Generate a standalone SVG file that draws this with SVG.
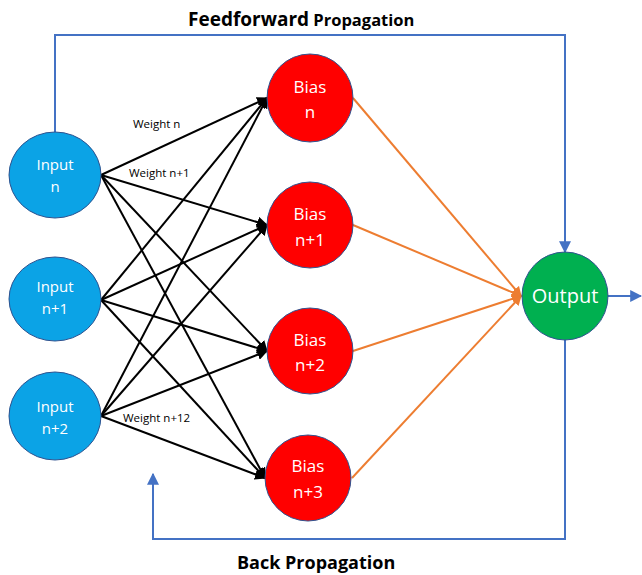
<svg xmlns="http://www.w3.org/2000/svg" width="642" height="575" viewBox="0 0 642 575">
<defs>
<marker id="ab" viewBox="0 0 10 10" refX="9" refY="5" markerWidth="5.5" markerHeight="5.5" orient="auto" markerUnits="strokeWidth"><path d="M0,0 L10,5 L0,10 z" fill="#000"/></marker>
<marker id="ao" viewBox="0 0 10 10" refX="9" refY="5" markerWidth="5" markerHeight="5" orient="auto" markerUnits="strokeWidth"><path d="M0,0 L10,5 L0,10 z" fill="#ED7D31"/></marker>
<marker id="abl" viewBox="0 0 10 10" refX="9" refY="5" markerWidth="6" markerHeight="6" orient="auto" markerUnits="strokeWidth"><path d="M0,0 L10,5 L0,10 z" fill="#4472C4"/></marker>
</defs>
<style>
.in{fill:#0BA3E6;stroke:#2F528F;stroke-width:1}
.bi{fill:#FF0000;stroke:#2F528F;stroke-width:1}
.out{fill:#00B050;stroke:#2F528F;stroke-width:1}
.t{font-family:"Open Sans","Liberation Sans",sans-serif;fill:#fff;font-size:15px;text-anchor:middle}
.tb{font-size:17px}
.w{font-family:"Open Sans","Liberation Sans",sans-serif;fill:#000;font-size:11.5px}
.h{font-family:"Open Sans","Liberation Sans",sans-serif;fill:#000;font-weight:bold}
.k{stroke:#000;stroke-width:2;fill:none;marker-end:url(#ab)}
.o{stroke:#ED7D31;stroke-width:2;fill:none;marker-end:url(#ao)}
.b{stroke:#4472C4;stroke-width:2;fill:none;marker-end:url(#abl)}
</style>
<g id="connectors">
<path class="b" d="M55,132 V35 H565 V252"/>
<path class="b" d="M608,296 H641"/>
<path class="b" d="M565,340 V539 H153 V474"/>
<line class="k" x1="101" y1="175" x2="267" y2="98"/>
<line class="k" x1="101" y1="175" x2="267" y2="225"/>
<line class="k" x1="101" y1="175" x2="267" y2="351"/>
<line class="k" x1="101" y1="175" x2="265" y2="478"/>
<line class="k" x1="101" y1="300" x2="267" y2="98"/>
<line class="k" x1="101" y1="300" x2="267" y2="225"/>
<line class="k" x1="101" y1="300" x2="267" y2="351"/>
<line class="k" x1="101" y1="300" x2="265" y2="478"/>
<line class="k" x1="101" y1="416" x2="267" y2="98"/>
<line class="k" x1="101" y1="416" x2="267" y2="225"/>
<line class="k" x1="101" y1="416" x2="267" y2="351"/>
<line class="k" x1="101" y1="416" x2="265" y2="478"/>
<line class="o" x1="353" y1="98" x2="521" y2="296"/>
<line class="o" x1="353" y1="225" x2="521" y2="296"/>
<line class="o" x1="353" y1="351" x2="521" y2="296"/>
<line class="o" x1="352" y1="478" x2="521" y2="296"/>
</g>
<g id="input-n"><ellipse class="in" cx="55" cy="175" rx="46" ry="43"/><text class="t" x="55" y="170">Input</text><text class="t" x="55" y="192">n</text></g>
<g id="input-n1"><ellipse class="in" cx="55" cy="299" rx="46" ry="42"/><text class="t" x="55" y="292">Input</text><text class="t" x="55" y="314">n+1</text></g>
<g id="input-n2"><ellipse class="in" cx="55" cy="416" rx="46" ry="44"/><text class="t" x="55" y="412">Input</text><text class="t" x="55" y="434">n+2</text></g>
<g id="bias-n"><ellipse class="bi" cx="310" cy="98" rx="43" ry="44"/><text class="t tb" x="310" y="93">Bias</text><text class="t tb" x="310" y="118">n</text></g>
<g id="bias-n1"><ellipse class="bi" cx="310" cy="225" rx="43" ry="43"/><text class="t tb" x="310" y="220">Bias</text><text class="t tb" x="310" y="246">n+1</text></g>
<g id="bias-n2"><ellipse class="bi" cx="310" cy="351" rx="43" ry="43"/><text class="t tb" x="310" y="346">Bias</text><text class="t tb" x="310" y="371">n+2</text></g>
<g id="bias-n3"><ellipse class="bi" cx="308" cy="478" rx="43" ry="43"/><text class="t tb" x="308" y="472">Bias</text><text class="t tb" x="308" y="498">n+3</text></g>
<g id="output"><ellipse class="out" cx="565" cy="296" rx="43" ry="44"/><text class="t" x="565" y="303" style="font-size:20px">Output</text></g>
<g id="labels">
<text class="w" x="133" y="128">Weight n</text>
<text class="w" x="129" y="177">Weight n+1</text>
<text class="w" x="123" y="422">Weight n+12</text>
<text class="h" x="188" y="26"><tspan style="font-size:19px">Feedforward</tspan><tspan style="font-size:16.5px"> Propagation</tspan></text>
<text class="h" x="237" y="569" style="font-size:18px">Back Propagation</text>
</g>
</svg>
